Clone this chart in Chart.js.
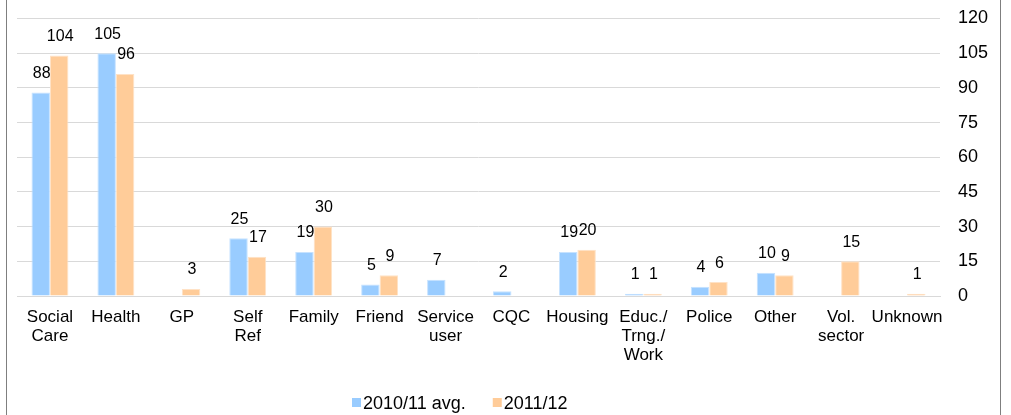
<!DOCTYPE html>
<html>
<head>
<meta charset="utf-8">
<script src="https://cdn.jsdelivr.net/npm/chart.js@4"></script>
<style>
  html, body { margin: 0; padding: 0; background: #fff; }
  #wrap { width: 1011px; height: 415px; }
</style>
</head>
<body>
<div id="wrap"><canvas id="chart" width="1011" height="415"></canvas></div>
<script>
// Categories and values
const categories = [
    ["Social", "Care"], "Health", "GP", ["Self", "Ref"], "Family", "Friend",
    ["Service", "user"], "CQC", "Housing", ["Educ./", "Trng./", "Work"],
    "Police", "Other", ["Vol.", "sector"], "Unknown"
]
const avg1011 = [88, 105, null, 25, 19, 5, 7, 2, 19, 1, 4, 10, null, null]
const year1112 = [104, 96, 3, 17, 30, 9, null, null, 20, 1, 6, 9, 15, 1]
const yTicks = [0, 15, 30, 45, 60, 75, 90, 105, 120]

const font = "'Liberation Sans', Arial, sans-serif"

// Value labels above each bar
const barLabels = {
    id: "barLabels",
    afterDatasetsDraw(chart) {
        const ctx = chart.ctx
        ctx.save()
        ctx.font = "16px " + font
        ctx.fillStyle = "#000"
        ctx.textAlign = "center"
        ctx.textBaseline = "bottom"
        chart.data.datasets.forEach((ds, i) => {
            chart.getDatasetMeta(i).data.forEach((bar, j) => {
                if (ds.data[j] == null) return
                ctx.fillText(ds.data[j], bar.x + 1, bar.y - 11)
            })
        })
        ctx.restore()
    }
}

// Legend drawn by hand so it sits where the original has it
const bottomLegend = {
    id: "bottomLegend",
    afterDraw(chart) {
        const ctx = chart.ctx
        ctx.save()
        ctx.font = "18px " + font
        ctx.fillStyle = "#000"
        ctx.textBaseline = "middle"
        let x = 352
        const y = 403
        chart.data.datasets.forEach(ds => {
            ctx.fillStyle = ds.backgroundColor
            ctx.fillRect(x, y - 5, 9, 9)
            ctx.fillStyle = "#000"
            ctx.fillText(ds.label, x + 11, y + 1)
            x += 11 + ctx.measureText(ds.label).width + 27
        })
        ctx.restore()
    }
}

// Frame lines at the left and right edge
const frame = {
    id: "frame",
    beforeDraw(chart) {
        const ctx = chart.ctx
        ctx.save()
        ctx.strokeStyle = "#7f7f7f"
        ctx.lineWidth = 1
        ctx.beginPath()
        ctx.moveTo(6.5, 0)
        ctx.lineTo(6.5, 415)
        ctx.moveTo(1000.5, 0)
        ctx.lineTo(1000.5, 415)
        ctx.stroke()
        ctx.restore()
    }
}

new Chart(document.getElementById("chart"), {
    type: "bar",
    data: {
        labels: categories,
        datasets: [
            {
                label: "2010/11 avg.",
                data: avg1011,
                backgroundColor: "#99ccff",
                borderColor: "#c6e2ff",
                borderWidth: 1
            },
            {
                label: "2011/12",
                data: year1112,
                backgroundColor: "#ffcc99",
                borderColor: "#ffe2c6",
                borderWidth: 1
            }
        ]
    },
    options: {
        responsive: false,
        animation: false,
        categoryPercentage: 0.56,
        barPercentage: 1,
        layout: { padding: { left: 17, right: 0, top: 16, bottom: 35 } },
        plugins: {
            legend: { display: false },
            tooltip: { enabled: false }
        },
        scales: {
            x: {
                grid: { display: false },
                border: { color: "#d9d9d9" },
                ticks: {
                    color: "#000",
                    font: { family: font, size: 17, lineHeight: 1.12 },
                    maxRotation: 0,
                    autoSkip: false,
                    padding: 4
                },
                afterFit(scale) { scale.height = 84 }
            },
            y: {
                position: "right",
                min: 0,
                max: 120,
                afterBuildTicks(scale) { scale.ticks = yTicks.map(v => ({ value: v })) },
                grid: { color: "#d9d9d9", drawTicks: false },
                border: { display: false },
                ticks: {
                    color: "#000",
                    font: { family: font, size: 18, lineHeight: 0.05 },
                    padding: 18,
                    crossAlign: "near"
                },
                afterFit(scale) { scale.width = 71 }
            }
        }
    },
    plugins: [barLabels, bottomLegend, frame]
})
</script>
</body>
</html>
